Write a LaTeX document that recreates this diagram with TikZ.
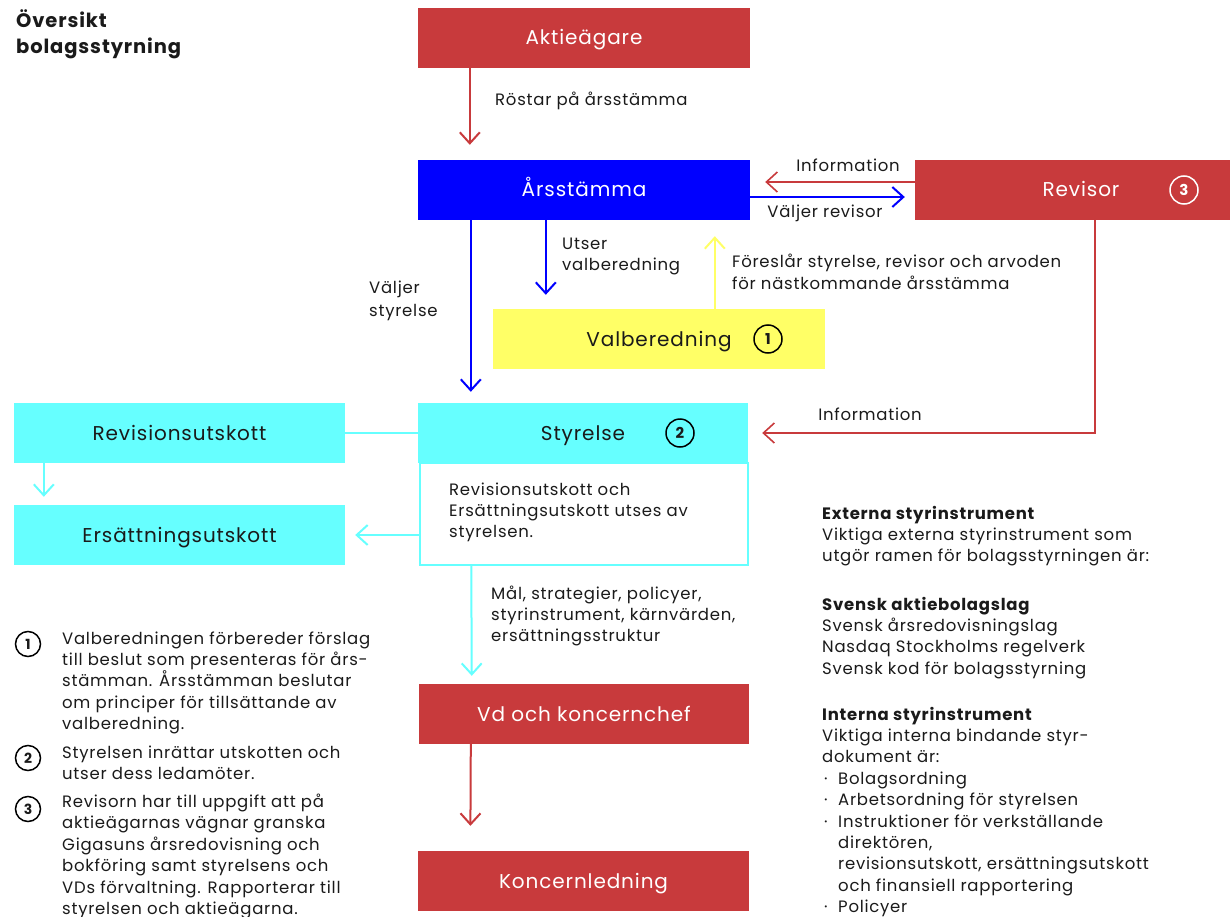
\documentclass[tikz,border=0pt]{standalone}
\usepackage{fontspec}
\setmainfont{Poppins}[LetterSpace=4.5]
\usetikzlibrary{arrows.meta,calc}
\definecolor{cred}{HTML}{C83A3C}
\definecolor{cblue}{HTML}{0000FF}
\definecolor{cyel}{HTML}{FFFF66}
\definecolor{ccyan}{HTML}{66FFFF}
\definecolor{ctext}{HTML}{1A1A1A}
\tikzset{
  box/.style={draw=none, minimum height=60pt, inner sep=0pt, text height=14pt, text depth=0pt, font=\fontsize{20}{22}\selectfont},
  redbox/.style={box, fill=cred, text=white},
  cyanbox/.style={box, fill=ccyan, text=ctext},
  conn/.style={line width=2pt, -{Straight Barb[length=11pt,width=20pt]}},
  plain/.style={line width=2pt},
  lbl/.style={inner sep=0pt, text=ctext, font=\fontsize{16.5}{21.4}\selectfont, align=left},
  num/.style={circle, draw, line width=1.5pt, minimum size=28pt, inner sep=0pt, font=\bfseries\fontsize{15}{15}\selectfont},
  smallnum/.style={num, minimum size=25pt, font=\bfseries\fontsize{14}{14}\selectfont},
  boxtext/.style={inner sep=0pt, text height=14pt, text depth=0pt, font=\fontsize{20}{22}\selectfont},
}
\begin{document}
\begin{tikzpicture}[x=1pt,y=-1pt]
\useasboundingbox (0,0) rectangle (1230,917);

% title
\node[lbl, anchor=base west, font=\bfseries\fontsize{19.5}{26}\selectfont] (title) at (16,54) {Översikt\\bolagsstyrning};

% boxes
\node[redbox, minimum width=332pt] (akt) at (584,38) {Aktieägare};
\node[box, fill=cblue, text=white, minimum width=332pt] (ars) at (584,190) {Årsstämma};
\node[box, fill=cred, minimum width=315pt] (rev) at (1072.5,190) {};
\node[boxtext, text=white] (revt) at (1081,190) {Revisor};
\node[num, draw=white, text=white] (revn) at (1184,190) {3};

\node[box, fill=cyel, minimum width=332pt] (val) at (659,339) {};
\node[boxtext, text=ctext] (valt) at (659,339) {Valberedning};
\node[num, text=ctext] (valn) at (768,339) {1};

\node[box, fill=ccyan, minimum width=330pt] (sty) at (583,433) {};
\node[boxtext, text=ctext] (styt) at (583,433) {Styrelse};
\node[num, text=ctext] (styn) at (680,433) {2};

\node[draw=ccyan, line width=1.5pt, minimum width=328pt, minimum height=102pt, inner sep=0pt] (stybox) at (584,514) {};
\node[lbl, anchor=base west] (stytext) at (449,537.8) {Revisionsutskott och\\Ersättningsutskott utses av\\styrelsen.};

\node[cyanbox, minimum width=331pt] (ru) at (179.5,433) {Revisionsutskott};
\node[cyanbox, minimum width=331pt] (eu) at (179.5,535) {Ersättningsutskott};

\node[redbox, minimum width=330pt] (vd) at (584,714) {Vd och koncernchef};
\node[redbox, minimum width=331pt] (kl) at (583.5,881) {Koncernledning};

% connectors
\draw[conn, cred, shorten >=15pt] ($(akt.south west)+(52,0)$) -- ($(ars.north west)+(52,0)$);
\node[lbl, anchor=base west] (l1) at (495,106) {Röstar på årsstämma};

\draw[conn, cred, line width=1.6pt, shorten >=15pt] ($(rev.west)+(0,-8)$) -- ($(ars.east)+(0,-8)$);
\node[lbl, anchor=base] (l2) at (848,172) {Information};

\draw[conn, cblue, shorten >=10pt] ($(ars.east)+(0,7)$) -- ($(rev.west)+(0,7)$);
\node[lbl, anchor=base] (l3) at (825,218) {Väljer revisor};

\draw[conn, cblue, shorten >=11pt] ($(ars.south west)+(53,0)$) -- ($(sty.north west)+(53,0)$);
\node[lbl, anchor=base west, font=\fontsize{16.5}{23}\selectfont] (l4) at (369,316) {Väljer\\styrelse};

\coordinate (utsend) at ($(ars.south west)+(128,0)$);
\draw[conn, cblue, shorten >=14pt] (utsend) -- (utsend |- val.north);
\node[lbl, anchor=base west] (l5) at (562,270.4) {Utser\\valberedning};

\coordinate (valstart) at ($(val.north west)+(222,0)$);
\draw[conn, cyel, shorten >=16pt] (valstart) -- (valstart |- ars.south);
\node[lbl, anchor=base west] (l6) at (732,289) {Föreslår styrelse, revisor och arvoden\\för nästkommande årsstämma};

\coordinate (revdown) at ($(rev.south west)+(180,0)$);
\draw[conn, cred, line width=1.6pt, shorten >=14pt] (revdown) |- (sty.east);
\node[lbl, anchor=base] (l7) at (870,420) {Information};

\draw[plain, ccyan] (ru.east) -- (sty.west);
\draw[conn, ccyan, shorten >=8pt] ($(ru.south west)+(30,0)$) -- ($(eu.north west)+(30,0)$);
\draw[conn, ccyan, shorten >=10pt] (stybox.west |- eu.east) -- (eu.east);

\draw[conn, ccyan, shorten >=8pt] ($(stybox.south west)+(52,0)$) -- ($(vd.north west)+(53,0)$);
\node[lbl, anchor=base west] (l8) at (491,641.8) {Mål, strategier, policyer,\\styrinstrument, kärnvärden,\\ersättningsstruktur};

\draw[conn, cred, shorten >=25pt] ($(vd.south west)+(52,0)$) -- ($(kl.north west)+(52.5,0)$);

% left notes
\node[smallnum, text=ctext] (n1) at (28,644) {1};
\node[lbl, anchor=base west] (t1) at (62,729.6) {Valberedningen förbereder förslag\\till beslut som presenteras för års-\\stämman. Årsstämman beslutar\\om principer för tillsättande av\\valberedning.};
\node[smallnum, text=ctext] (n2) at (28,758) {2};
\node[lbl, anchor=base west] (t2) at (62,779.4) {Styrelsen inrättar utskotten och\\utser dess ledamöter.};
\node[smallnum, text=ctext] (n3) at (28,809) {3};
\node[lbl, anchor=base west] (t3) at (62,914.5) {Revisorn har till uppgift att på\\aktieägarnas vägnar granska\\Gigasuns årsredovisning och\\bokföring samt styrelsens och\\VDs förvaltning. Rapporterar till\\styrelsen och aktieägarna.};

% right column
\node[lbl, anchor=base west] (r1) at (822,561.8) {\textbf{Externa styrinstrument}\\Viktiga externa styrinstrument som\\utgör ramen för bolagsstyrningen är:};
\node[lbl, anchor=base west] (r2) at (822,674.2) {\textbf{Svensk aktiebolagslag}\\Svensk årsredovisningslag\\Nasdaq Stockholms regelverk\\Svensk kod för bolagsstyrning};
\node[lbl, anchor=base west] (r3) at (822,912.6) {\textbf{Interna styrinstrument}\\Viktiga interna bindande styr-\\dokument är:\\
\makebox[16pt][l]{\hspace*{2pt}·}Bolagsordning\\
\makebox[16pt][l]{\hspace*{2pt}·}Arbetsordning för styrelsen\\
\makebox[16pt][l]{\hspace*{2pt}·}Instruktioner för verkställande\\
\hspace*{16pt}direktören,\\
\hspace*{16pt}revisionsutskott, ersättningsutskott\\
\hspace*{16pt}och finansiell rapportering\\
\makebox[16pt][l]{\hspace*{2pt}·}Policyer};
\end{tikzpicture}
\end{document}
